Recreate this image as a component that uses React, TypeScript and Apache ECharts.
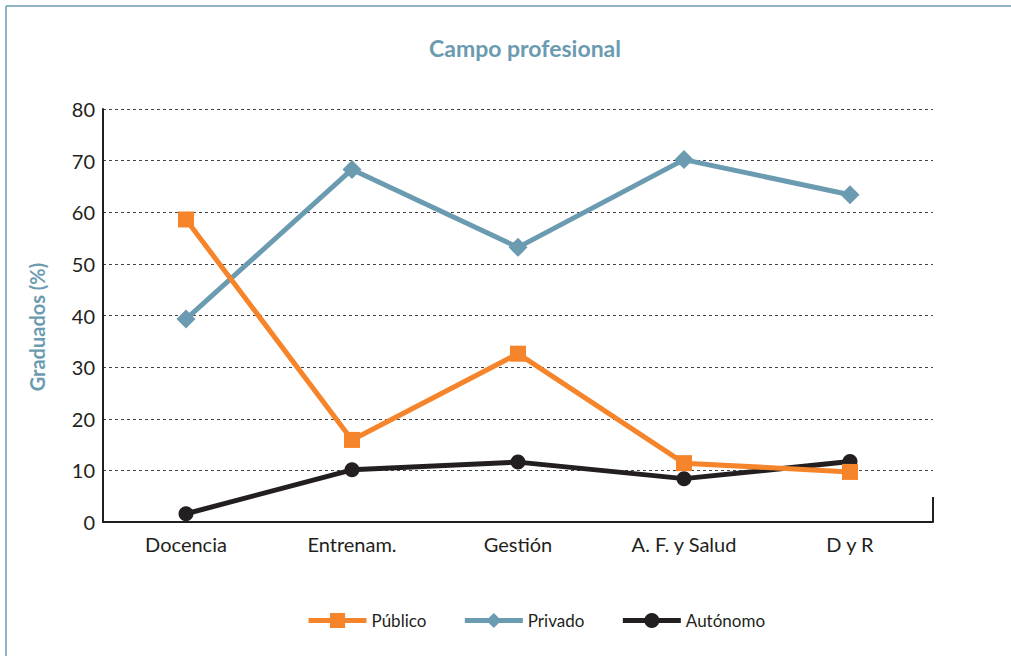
import React, { useEffect, useRef } from "react";
import * as echarts from "echarts";

const categories = ["Docencia", "Entrenam.", "Gestión", "A. F. y Salud", "D y R"];
const publico = [58.6, 15.9, 32.6, 11.4, 9.7];
const privado = [39.3, 68.3, 53.2, 70.2, 63.4];
const autonomo = [1.6, 10.1, 11.6, 8.4, 11.7];
const seriesNames = ["Público", "Privado", "Autónomo"];

const BLUE = "#6b9bb0";
const ORANGE = "#f5842a";
const DARK = "#231f20";
const FONT = "Lato";

export default function App() {
  const ref = useRef<HTMLDivElement>(null);
  useEffect(() => {
    const chart = echarts.init(ref.current!, null, { renderer: "svg" });
    chart.setOption({
      animation: false,
      backgroundColor: "#fff",
      title: {
        text: "Campo profesional",
        left: 424,
        top: 31,
        textStyle: { color: BLUE, fontSize: 23, fontWeight: "bold", fontFamily: FONT },
      },
      grid: { left: 103, right: 78, top: 109, bottom: 134 },
      legend: {
        bottom: 22,
        left: 301,
        itemWidth: 58,
        itemHeight: 19,
        itemGap: 36,
        textStyle: { fontSize: 17, color: DARK, fontFamily: FONT },
        data: seriesNames.map((n) => ({ name: n, lineStyle: { width: 5 } })),
      },
      xAxis: {
        type: "category",
        data: categories,
        boundaryGap: true,
        axisLine: { lineStyle: { color: DARK, width: 2 } },
        axisTick: { inside: true, length: 8, lineStyle: { color: DARK, width: 2 } },
        axisLabel: { fontSize: 20, color: DARK, fontFamily: FONT, margin: 12 },
      },
      yAxis: {
        type: "value",
        min: 0,
        max: 80,
        interval: 10,
        axisLine: { show: true, lineStyle: { color: DARK, width: 2 } },
        axisTick: { show: false },
        axisLabel: { fontSize: 20, color: DARK, fontFamily: FONT, margin: 8 },
        splitLine: { lineStyle: { color: "#444", type: [3, 3], width: 1 } },
      },
      graphic: [
        { type: "line", shape: { x1: 6, y1: 6, x2: 1011, y2: 6 }, style: { stroke: BLUE, lineWidth: 1.5 } },
        { type: "line", shape: { x1: 6, y1: 6, x2: 6, y2: 656 }, style: { stroke: BLUE, lineWidth: 1.5 } },
        { type: "line", shape: { x1: 933, y1: 497, x2: 933, y2: 522 }, style: { stroke: DARK, lineWidth: 2 } },
        {
          type: "text",
          x: 37,
          y: 327,
          rotation: Math.PI / 2,
          style: {
            text: "Graduados (%)",
            fill: BLUE,
            fontSize: 20,
            fontWeight: "bold",
            fontFamily: FONT,
            align: "center",
            verticalAlign: "middle",
          },
        },
      ],
      series: [
        {
          name: seriesNames[0],
          type: "line",
          data: publico,
          symbol: "rect",
          symbolSize: 16,
          lineStyle: { color: ORANGE, width: 5 },
          itemStyle: { color: ORANGE },
          z: 4,
        },
        {
          name: seriesNames[1],
          type: "line",
          data: privado,
          symbol: "diamond",
          symbolSize: 19,
          lineStyle: { color: BLUE, width: 5 },
          itemStyle: { color: BLUE },
          z: 3,
        },
        {
          name: seriesNames[2],
          type: "line",
          data: autonomo,
          symbol: "circle",
          symbolSize: 15,
          lineStyle: { color: DARK, width: 5 },
          itemStyle: { color: DARK },
          z: 2,
        },
      ],
    });
    return () => chart.dispose();
  }, []);
  return <div ref={ref} style={{ width: 1011, height: 656, position: "absolute", left: 0, top: 0 }} />;
}
